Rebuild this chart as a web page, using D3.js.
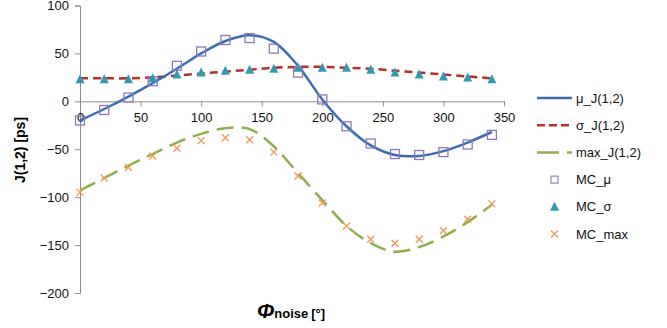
<!DOCTYPE html>
<html lang="en">
<head>
  <meta charset="UTF-8">
  <title>J(1,2) vs noise phase</title>
  <script src="https://d3js.org/d3.v7.min.js"></script>
</head>
<body style="margin: 0; padding: 0; overflow: hidden; background: #fff;">
  <svg id="chart"></svg>

  <script>
    // phase angles (deg)
    const phi = [0, 20, 40, 60, 80, 100, 120, 140, 160, 180, 200, 220, 240, 260, 280, 300, 320, 340];

    // analytic curves
    const muJ  = [-20, -8, 5, 19, 34, 50, 63, 69, 62, 37, 2, -26, -46, -56, -57, -52, -43, -32];
    const sigJ = [24, 24, 24, 25, 27, 29, 31, 33, 35, 36, 36, 35, 34, 32, 30, 28, 26, 24];
    const maxJ = [-93, -80, -67, -55, -43, -34, -28, -29, -47, -75, -103, -130, -148, -157, -152, -141, -126, -108];

    // monte carlo points
    const mcMu  = [-20, -9, 4, 21, 37, 52, 64, 66, 55, 30, 2, -26, -44, -55, -56, -53, -45, -35];
    const mcSig = [23, 23, 23, 24, 28, 30, 32, 33, 34, 35, 35, 35, 33, 30, 28, 26, 25, 23];
    const mcMax = [-95, -80, -69, -57, -49, -41, -38, -40, -53, -78, -106, -130, -144, -148, -144, -135, -123, -107];

    const xTicks = [0, 50, 100, 150, 200, 250, 300, 350];
    const yTicks = [100, 50, 0, -50, -100, -150, -200];

    const W = 667, H = 328;
    const svg = d3.select("#chart").attr("width", W).attr("height", H)
      .style("font-family", "'Liberation Sans', Arial, sans-serif");

    const x = d3.scaleLinear().domain([0, 350]).range([80, 504]);
    const y = d3.scaleLinear().domain([-200, 100]).range([293, 5.5]);

    // y axis
    const yAxis = svg.append("g").attr("transform", `translate(${x(0)},0)`)
      .call(d3.axisLeft(y).tickValues(yTicks).tickSize(5).tickPadding(6));
    yAxis.select(".domain").attr("stroke", "#8c8c8c");
    yAxis.selectAll(".tick line").attr("stroke", "#8c8c8c");
    yAxis.selectAll("text").attr("font-size", 13).attr("fill", "#111");

    // x axis through y = 0
    const xAxis = svg.append("g").attr("transform", `translate(0,${y(0)})`)
      .call(d3.axisBottom(x).tickValues(xTicks).tickSize(5).tickPadding(6).tickSizeOuter(0));
    xAxis.select(".domain").attr("stroke", "#8c8c8c");
    xAxis.selectAll(".tick line").attr("stroke", "#8c8c8c");
    xAxis.selectAll("text").attr("font-size", 13).attr("fill", "#111");

    const line = d3.line().x((d, i) => x(phi[i])).y(d => y(d)).curve(d3.curveCatmullRom);

    svg.append("path").datum(maxJ).attr("d", line)
      .attr("fill", "none").attr("stroke", "#8db04d").attr("stroke-width", 2.5)
      .attr("stroke-dasharray", "17,8");
    svg.append("path").datum(sigJ).attr("d", line)
      .attr("fill", "none").attr("stroke", "#b3302c").attr("stroke-width", 2.5)
      .attr("stroke-dasharray", "8,5");
    svg.append("path").datum(muJ).attr("d", line)
      .attr("fill", "none").attr("stroke", "#3c6db3").attr("stroke-width", 2.5);

    // markers
    function square(g, cx, cy) {
      g.append("rect").attr("x", cx - 4.5).attr("y", cy - 4.5).attr("width", 9).attr("height", 9)
        .attr("fill", "none").attr("stroke", "#8a7ab8").attr("stroke-width", 1.3);
    }
    function triangle(g, cx, cy) {
      g.append("path").attr("d", `M${cx},${cy - 5}L${cx + 4.5},${cy + 4}L${cx - 4.5},${cy + 4}Z`)
        .attr("fill", "#2f9ab2");
    }
    function cross(g, cx, cy) {
      g.append("path").attr("d", `M${cx - 3.5},${cy - 3.5}L${cx + 3.5},${cy + 3.5}M${cx + 3.5},${cy - 3.5}L${cx - 3.5},${cy + 3.5}`)
        .attr("stroke", "#ef9a5c").attr("stroke-width", 1.4).attr("fill", "none");
    }

    const marks = svg.append("g");
    phi.forEach((p, i) => {
      square(marks, x(p), y(mcMu[i]));
      triangle(marks, x(p), y(mcSig[i]));
      cross(marks, x(p), y(mcMax[i]));
    });

    // axis titles
    svg.append("text").attr("transform", "translate(25,150) rotate(-90)")
      .attr("text-anchor", "middle").attr("font-weight", "bold").attr("font-size", 14)
      .text("J(1,2) [ps]");

    const xt = svg.append("text").attr("x", 257).attr("y", 318).attr("font-weight", "bold");
    xt.append("tspan").attr("font-size", 21).attr("font-style", "italic").text("Φ");
    xt.append("tspan").attr("font-size", 13).text("noise");
    xt.append("tspan").attr("font-size", 13).attr("dx", 3).text("[°]");

    // legend
    const legend = [
      { label: "μ_J(1,2)", type: "line", color: "#3c6db3", dash: null },
      { label: "σ_J(1,2)", type: "line", color: "#b3302c", dash: "8,4" },
      { label: "max_J(1,2)", type: "line", color: "#8db04d", dash: "22,8" },
      { label: "MC_μ", type: "sq" },
      { label: "MC_σ", type: "tri" },
      { label: "MC_max", type: "x" }
    ];
    legend.forEach((d, i) => {
      const ly = 98 + i * 27.2;
      const g = svg.append("g");
      if (d.type === "line") {
        g.append("line").attr("x1", 537).attr("x2", 572).attr("y1", ly).attr("y2", ly)
          .attr("stroke", d.color).attr("stroke-width", 2.5).attr("stroke-dasharray", d.dash);
      } else if (d.type === "sq") {
        g.append("rect").attr("x", 551).attr("y", ly - 3.5).attr("width", 7).attr("height", 7)
          .attr("fill", "none").attr("stroke", "#8a7ab8").attr("stroke-width", 1.1);
      } else if (d.type === "tri") {
        triangle(g, 554.5, ly);
      } else {
        cross(g, 554.5, ly);
      }
      g.append("text").attr("x", 576).attr("y", ly + 4.5).attr("font-size", 13).attr("fill", "#111")
        .text(d.label);
    });
  </script>
</body>
</html>
